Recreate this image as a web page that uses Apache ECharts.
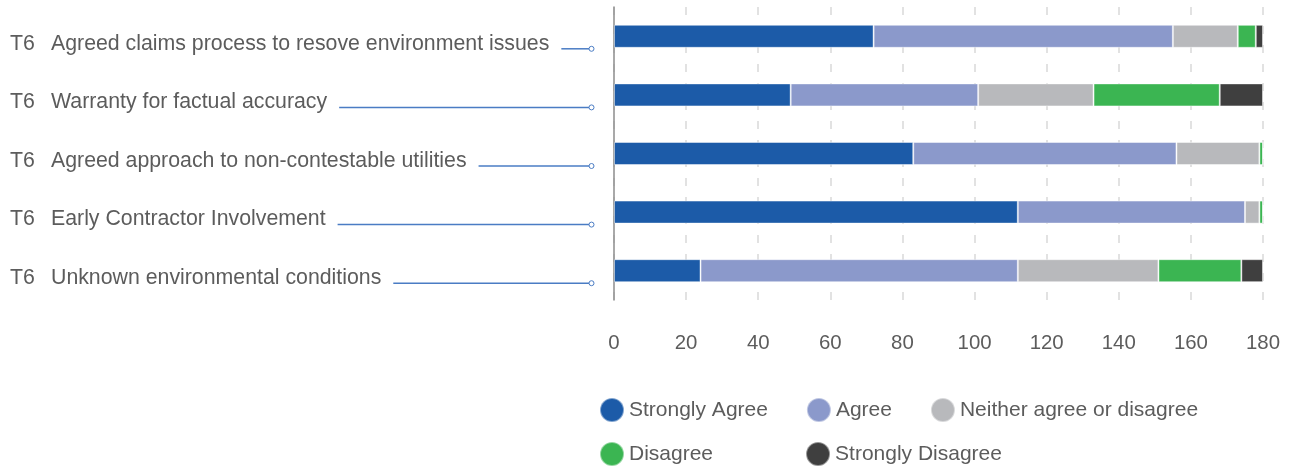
<!DOCTYPE html>
<html>
<head>
<meta charset="utf-8">
<script src="https://cdn.jsdelivr.net/npm/echarts@6/dist/echarts.min.js"></script>
<style>
  html, body { margin: 0; padding: 0; background: #ffffff; }
  #chart { width: 1293px; height: 467px; }
</style>
</head>
<body>
<div id="chart"></div>
<script>
// Survey responses per T6 item (number of respondents)
const codes = ['T6', 'T6', 'T6', 'T6', 'T6'];
const categories = [
  'Agreed claims process to resove environment issues',
  'Warranty for factual accuracy',
  'Agreed approach to non-contestable utilities',
  'Early Contractor Involvement',
  'Unknown environmental conditions'
];
const stronglyAgree    = [72, 49, 83, 112, 24];
const agree            = [83, 52, 73, 63, 88];
const neither          = [18, 32, 23, 4, 39];
const disagree         = [5, 35, 1, 1, 23];
const stronglyDisagree = [2, 12, 0, 0, 6];

const seriesNames = ['Strongly Agree', 'Agree', 'Neither agree or disagree', 'Disagree', 'Strongly Disagree'];
const seriesColors = ['#1c5ba8', '#8b99cb', '#b8b9bc', '#3bb552', '#3f3f3f'];
const seriesValues = [stronglyAgree, agree, neither, disagree, stronglyDisagree];

const textColor = '#5c5c5c';
const fontFamily = '"Liberation Sans", Arial, Helvetica, sans-serif';
const labelFontSize = 21.3;
const leaderColor = '#4a7cc4';

const measureCtx = document.createElement('canvas').getContext('2d');
measureCtx.font = labelFontSize + 'px ' + fontFamily;

// Row labels on the left with a leader line running toward the axis
function renderRowLabel(params, api) {
  const i = api.value(1);
  const pt = api.coord([0, i]);
  const y = pt[1];
  const textX = 51;
  const textW = measureCtx.measureText(categories[i]).width;
  const lineStart = textX + textW + 12;
  const lineEnd = pt[0] - 25;
  const lineY = y + 12.5;
  const font = labelFontSize + 'px ' + fontFamily;
  return {
    type: 'group',
    children: [
      { type: 'text', style: { x: 10, y: y + 7.5, text: codes[i], font: font, fill: textColor, verticalAlign: 'middle' } },
      { type: 'text', style: { x: textX, y: y + 7.5, text: categories[i], font: font, fill: textColor, verticalAlign: 'middle' } },
      { type: 'line', shape: { x1: lineStart, y1: lineY, x2: lineEnd, y2: lineY }, style: { stroke: leaderColor, lineWidth: 1.5 } },
      { type: 'circle', shape: { cx: lineEnd + 2.5, cy: lineY, r: 2.5 }, style: { fill: '#ffffff', stroke: leaderColor, lineWidth: 1 } }
    ]
  };
}

const barSeries = seriesNames.map((name, k) => ({
  name: name,
  type: 'bar',
  stack: 'total',
  barWidth: 23,
  data: seriesValues[k],
  itemStyle: { color: seriesColors[k], borderColor: 'rgba(255,255,255,0.45)', borderWidth: 1 },
  emphasis: { disabled: true }
}));

const legendText = { color: textColor, fontSize: 21, fontFamily: fontFamily };

const chart = echarts.init(document.getElementById('chart'));
chart.setOption({
  animation: false,
  backgroundColor: '#ffffff',
  textStyle: { fontFamily: fontFamily },
  grid: { left: 614, right: 30, top: 7, height: 293, containLabel: false },
  xAxis: {
    type: 'value',
    min: 0,
    max: 180,
    interval: 20,
    axisLine: { show: false },
    axisTick: { show: false },
    axisLabel: { color: textColor, fontSize: 20.4, margin: 33, fontFamily: fontFamily },
    splitLine: { show: true, lineStyle: { color: '#d9d9d9', width: 1.5, type: [8, 11] } }
  },
  yAxis: {
    type: 'category',
    inverse: true,
    data: categories,
    axisLine: { show: true, lineStyle: { color: '#8c8c8c', width: 1.5 } },
    axisTick: { show: false },
    axisLabel: { show: false }
  },
  legend: [
    {
      data: seriesNames.slice(0, 3),
      left: 594, top: 392,
      icon: 'circle', itemWidth: 24, itemHeight: 24, itemGap: 38,
      textStyle: legendText,
      selectedMode: false
    },
    {
      data: seriesNames.slice(3),
      left: 594, top: 436,
      icon: 'circle', itemWidth: 24, itemHeight: 24, itemGap: 92,
      textStyle: legendText,
      selectedMode: false
    }
  ],
  series: barSeries.concat([{
    type: 'custom',
    name: 'rowLabels',
    silent: true,
    clip: false,
    renderItem: renderRowLabel,
    encode: { x: 0, y: 1 },
    data: categories.map((c, i) => [0, i])
  }])
});
</script>
</body>
</html>
